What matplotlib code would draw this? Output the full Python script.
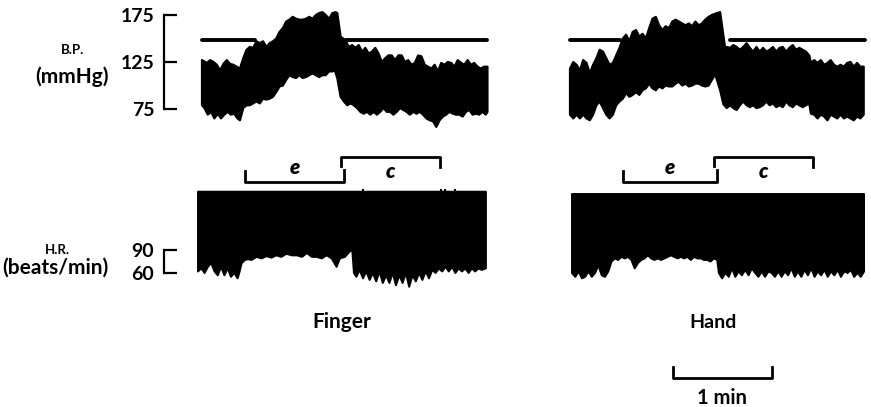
import matplotlib
matplotlib.use("Agg")
import matplotlib.pyplot as plt
from matplotlib.transforms import blended_transform_factory

plt.rcParams['font.family'] = ['Lato', 'DejaVu Sans']
plt.rcParams['font.weight'] = 'bold'

# ---- blood pressure, finger (s, mmHg): systolic / diastolic envelopes
bpf_up_t = [0, 3, 5, 7, 9, 11, 13, 15, 17, 19, 21, 23, 25, 27, 29, 31, 33, 35, 37, 39,
            41, 43, 45, 47, 49, 51, 53, 55, 57, 59, 61, 63, 65, 67, 69, 71, 73, 75, 77, 79,
            81, 82, 84, 87, 89, 91, 93, 95, 97, 99, 101, 103, 105, 107, 109, 111, 113, 115,
            117, 119, 121, 123, 125, 127, 129, 131, 133, 135, 137, 139, 141, 143, 145, 147,
            149, 151, 153, 155, 157, 159, 161, 163, 165, 167, 169, 171, 173]
bpf_up = [127, 124, 127, 125, 122, 116, 123, 127, 123, 122, 120, 118, 129, 138, 141, 140, 147, 145, 147, 141,
          145, 147, 150, 157, 161, 168, 170, 173, 171, 170, 170, 171, 173, 171, 175, 177, 178, 175, 171, 177,
          178, 177, 152, 148, 141, 143, 140, 143, 136, 140, 134, 136, 140, 134, 125, 129, 132, 132,
          127, 132, 132, 125, 127, 122, 124, 132, 131, 122, 120, 118, 122, 115, 124, 122,
          125, 124, 120, 127, 124, 122, 127, 122, 124, 120, 118, 120, 120]
bpf_lo_t = [0, 1.5, 3.5, 5.5, 7.5, 9.5, 11.5, 13.5, 15.5, 17.5, 19.5, 21.5, 23, 25, 27, 29, 31, 33, 35, 37,
            39, 41, 43, 45, 47, 49, 51, 53, 55, 57, 59, 61, 63, 65, 67, 69, 71, 73, 75, 77,
            79, 80.5, 82, 84, 86, 88, 90, 92, 94, 96, 98, 100, 102, 104, 106, 108, 110, 112,
            114, 116, 118, 120, 122, 124, 126, 128, 130, 132, 134, 136, 138, 140, 142, 144,
            146, 148, 150, 152, 154, 156, 158, 160, 162, 164, 166, 168, 170, 172, 173]
bpf_lo = [79, 76, 69, 72, 65, 70, 65, 69, 72, 69, 70, 65, 63, 76, 79, 79, 81, 83, 81, 86,
          85, 86, 88, 93, 99, 100, 106, 111, 109, 108, 111, 108, 109, 111, 113, 111, 109, 111, 111, 115,
          115, 116, 108, 88, 83, 79, 81, 79, 76, 72, 70, 72, 69, 72, 69, 72, 76, 72,
          72, 69, 72, 76, 74, 72, 69, 72, 70, 72, 69, 65, 63, 62, 56, 63,
          67, 69, 72, 70, 69, 69, 67, 72, 74, 69, 70, 69, 72, 69, 72]

# ---- blood pressure, hand
bph_up_t = [0, 2, 4, 6, 8, 10, 12, 14, 16, 18, 20, 22, 24, 26, 28, 30, 32, 34, 36, 38,
            40, 42, 44, 46, 48, 50, 52, 54, 56, 58, 60, 62, 64, 66, 68, 70, 72, 74, 76, 78,
            80, 82, 84, 86, 89, 91, 94, 95, 97, 99, 101, 103, 105, 107, 109, 111, 113, 115,
            117, 119, 121, 123, 125, 127, 129, 131, 133, 135, 137, 139, 141, 143, 145, 146,
            148, 150, 152, 154, 156, 158, 160, 162, 164, 166, 168, 170, 172, 174, 176, 178]
bph_up = [118, 125, 122, 116, 127, 124, 113, 122, 129, 138, 136, 129, 122, 124, 132, 140, 150, 154, 147, 157,
          159, 152, 155, 150, 161, 171, 173, 164, 159, 163, 161, 168, 170, 168, 166, 164, 166, 163, 168, 164,
          166, 170, 173, 175, 177, 178, 140, 141, 140, 143, 141, 138, 141, 145, 140, 136, 141, 136,
          140, 136, 138, 141, 136, 140, 141, 136, 140, 143, 138, 140, 138, 136, 132, 124,
          127, 124, 127, 122, 124, 127, 122, 120, 122, 120, 124, 125, 120, 124, 120, 120]
bph_lo_t = [0, 2, 4, 6, 8, 10, 12, 14, 16, 18, 20, 22, 24, 26, 28, 30, 32, 34, 36, 38,
            40, 42, 44, 46, 48, 50, 52, 54, 56, 58, 60, 62, 64, 66, 68, 70, 72, 74, 76, 78,
            80, 82, 84, 86, 88, 91, 93, 95, 97, 99, 101, 103, 105, 107, 109, 111, 113, 115,
            117, 119, 121, 123, 125, 127, 129, 131, 133, 135, 137, 139, 141, 143, 145, 146,
            148, 150, 152, 154, 156, 158, 160, 162, 164, 166, 168, 170, 172, 174, 176, 178]
bph_lo = [69, 65, 69, 65, 69, 65, 63, 69, 79, 83, 76, 69, 65, 69, 79, 83, 86, 92, 88, 90,
          93, 90, 95, 97, 102, 97, 95, 99, 97, 100, 99, 99, 102, 104, 100, 102, 99, 100, 102, 102,
          100, 99, 100, 106, 112, 95, 80, 76, 79, 76, 74, 79, 83, 79, 77, 79, 76, 77,
          79, 83, 79, 81, 77, 79, 77, 83, 79, 77, 81, 79, 77, 79, 81, 70,
          69, 65, 69, 67, 63, 69, 67, 65, 69, 65, 67, 65, 63, 67, 65, 69]

# ---- heart rate (beats/min), lower edge of the rate-meter record
hrf_t = [0, 2, 4, 6, 8, 10, 12, 14, 16, 18, 20, 22, 24, 25, 26.5, 28.5, 30.5, 32.5, 35.5, 38.5,
         41.5, 44.5, 47.5, 50.5, 53.5, 57, 60, 63, 66, 69, 72, 75, 78, 81, 84, 86, 89, 92, 93.5, 94.5,
         96, 98, 100, 102, 104, 106, 108, 110, 112, 114, 116, 118, 120, 122, 124, 126, 128, 130,
         132, 134, 136, 138, 140, 142, 144, 146, 148, 150, 152, 154, 156, 158, 160, 162, 164, 166,
         168, 170, 172, 174.5]
hrf = [62, 66, 60, 68, 73, 62, 57, 68, 57, 66, 55, 60, 53, 60, 73, 77, 78, 77, 81, 79,
       82, 80, 83, 81, 85, 83, 83, 81, 86, 81, 81, 79, 83, 79, 68, 79, 81, 88, 90, 60,
       55, 64, 53, 62, 51, 60, 49, 62, 47, 57, 47, 60, 44, 57, 47, 60, 42, 57,
       49, 60, 51, 62, 53, 64, 60, 66, 62, 68, 62, 68, 60, 66, 62, 66, 60, 66,
       62, 66, 64, 66]
hrh_t = [0, 2, 4, 6, 8, 10, 12, 14, 16, 18, 20, 22, 24, 26, 28, 30, 32, 34, 36, 38,
         40, 42, 44, 46, 48, 50, 52, 54, 56, 58, 60, 62, 64, 66, 68, 70, 72, 74, 76, 78,
         80, 82, 84, 86, 88, 89, 91, 93, 95, 97, 99, 101, 103, 105, 107, 109, 111, 113,
         115, 117, 119, 121, 123, 125, 127, 129, 131, 133, 135, 137, 139, 141, 143, 145,
         147, 149, 151, 153, 155, 157, 159, 161, 163, 165, 167, 169, 171, 173, 175, 177]
hrh = [60, 55, 62, 53, 55, 62, 55, 60, 70, 57, 55, 62, 75, 79, 77, 81, 79, 81, 77, 66,
       73, 77, 79, 83, 79, 77, 79, 77, 79, 81, 83, 81, 79, 81, 79, 81, 77, 81, 79, 79,
       77, 77, 75, 79, 77, 60, 53, 60, 55, 66, 55, 62, 57, 64, 57, 66, 60, 55,
       62, 55, 62, 60, 55, 62, 55, 62, 57, 66, 55, 62, 55, 64, 57, 66,
       55, 62, 57, 64, 55, 62, 57, 64, 55, 62, 60, 64, 55, 60, 55, 62]
hr_top_finger = 166
hr_top_hand = 163
# brief overshoots above the finger record's top
hrf_spike_t = [100, 147, 149.5, 156]
hrf_spike = [170, 169, 170, 169]

# reference level drawn over the BP records (mmHg) and its segments (s)
bp_ref = 148
ref_finger = [(0, 32), (87, 173)]
ref_hand = [(0, 30), (97, 179)]

# stimulus periods (s): e and c
periods_finger = {'e': (26, 86), 'c': (84, 144)}
periods_hand = {'e': (32, 89), 'c': (87, 147)}

bp_ticks = [75, 125, 175]
hr_ticks = [60, 90]
scale_bar = (61, 121)  # 1 min, on the hand time base

W, H = 871, 407
PX_S = 1.65          # pixels per second
T_LIM = (-2, 180)
BP_LIM = (50, 185)
HR_LIM = (30, 175)

fig = plt.figure(figsize=(W / 100, H / 100), dpi=100)


def fx(x):
    return x / W


def fy(y):
    return 1 - y / H


def make_axes(t0_px, y_of, ylim):
    left = t0_px + T_LIM[0] * PX_S
    right = t0_px + T_LIM[1] * PX_S
    top = y_of(ylim[1])
    bottom = y_of(ylim[0])
    ax = fig.add_axes([fx(left), fy(bottom), (right - left) / W, (bottom - top) / H])
    ax.set_xlim(*T_LIM)
    ax.set_ylim(*ylim)
    ax.patch.set_visible(False)
    for s in ['top', 'right', 'bottom', 'left']:
        ax.spines[s].set_visible(False)
    ax.xaxis.set_visible(False)
    ax.yaxis.set_visible(False)
    return ax, left


def bp_y(v):
    return 15 + (175 - v) * 0.94


def hr_y(v):
    return 250 + (90 - v) * 0.767


def scale_axis(ax, left_px, ticks):
    ax.yaxis.set_visible(True)
    sp = ax.spines['left']
    sp.set_visible(True)
    sp.set_position(('outward', (left_px - 164) * 0.72))
    sp.set_bounds(ticks[0], ticks[-1])
    sp.set_linewidth(1.6)
    sp.set_capstyle('projecting')
    ax.set_yticks(ticks)
    ax.tick_params(axis='y', direction='in', length=9.5, width=1.6, pad=7,
                   labelsize=14)
    for lab in ax.get_yticklabels():
        lab.set_fontweight('bold')


def draw_bp(ax, t_up, up, t_lo, lo, ref_segs):
    xs = list(t_up) + list(t_lo)[::-1]
    ys = list(up) + list(lo)[::-1]
    ax.fill(xs, ys, color='black', lw=1.6, joinstyle='round')
    for a, b in ref_segs:
        ax.plot([a, b], [bp_ref, bp_ref], color='black', lw=2.8,
                solid_capstyle='round', zorder=1)


def draw_hr(ax, t, lo, top):
    xs = [t[0]] + list(t) + [t[-1]]
    ys = [top] + list(lo) + [top]
    ax.fill(xs, ys, color='black', lw=1.4, joinstyle='round')


def draw_periods(ax, periods):
    tr = blended_transform_factory(ax.transData, fig.transFigure)
    e0, e1 = periods['e']
    c0, c1 = periods['c']
    ax.plot([e0, e0, e1, e1], [fy(171), fy(181.5), fy(181.5), fy(170)], color='black',
            lw=2.0, transform=tr, clip_on=False)
    ax.plot([c0, c0, c1, c1], [fy(166), fy(157), fy(157), fy(167)], color='black',
            lw=2.0, transform=tr, clip_on=False)
    ax.text((e0 + e1) / 2, fy(167), 'e', transform=tr, ha='center', va='center',
            fontsize=15, fontstyle='italic', fontweight='heavy')
    ax.text((c0 + c1) / 2, fy(172), 'c', transform=tr, ha='center', va='center',
            fontsize=15, fontstyle='italic', fontweight='heavy')


# finger column
ax_bpf, left_bpf = make_axes(202, bp_y, BP_LIM)
draw_bp(ax_bpf, bpf_up_t, bpf_up, bpf_lo_t, bpf_lo, ref_finger)
scale_axis(ax_bpf, left_bpf, bp_ticks)
draw_periods(ax_bpf, periods_finger)

ax_hrf, left_hrf = make_axes(198, hr_y, HR_LIM)
draw_hr(ax_hrf, hrf_t, hrf, hr_top_finger)
ax_hrf.vlines(hrf_spike_t, hr_top_finger - 2, hrf_spike, color='black', lw=1.5)
scale_axis(ax_hrf, left_hrf, hr_ticks)

# hand column
ax_bph, _ = make_axes(570, bp_y, BP_LIM)
draw_bp(ax_bph, bph_up_t, bph_up, bph_lo_t, bph_lo, ref_hand)
draw_periods(ax_bph, periods_hand)

ax_hrh, _ = make_axes(572, hr_y, HR_LIM)
draw_hr(ax_hrh, hrh_t, hrh, hr_top_hand)

# time scale bar
tr = blended_transform_factory(ax_hrh.transData, fig.transFigure)
s0, s1 = scale_bar
ax_hrh.plot([s0, s0, s1, s1], [fy(367), fy(378), fy(378), fy(367)], color='black',
            lw=2.0, transform=tr, clip_on=False)
ax_hrh.text((s0 + s1) / 2, fy(398), '1 min', transform=tr, ha='center', va='center',
            fontsize=14.5, fontweight='bold')

# labels
fig.text(fx(72), fy(50), 'B.P.', ha='center', va='center', fontsize=9.5, fontweight='bold')
fig.text(fx(72), fy(77), '(mmHg)', ha='center', va='center', fontsize=15, fontweight='bold')
fig.text(fx(57), fy(250), 'H.R.', ha='center', va='center', fontsize=9.5, fontweight='bold')
fig.text(fx(55), fy(268), '(beats/min)', ha='center', va='center', fontsize=15, fontweight='bold')
fig.text(fx(342), fy(322), 'Finger', ha='center', va='center', fontsize=15, fontweight='bold')
fig.text(fx(713), fy(322), 'Hand', ha='center', va='center', fontsize=14, fontweight='bold')

fig.savefig('out.png', dpi=100)
